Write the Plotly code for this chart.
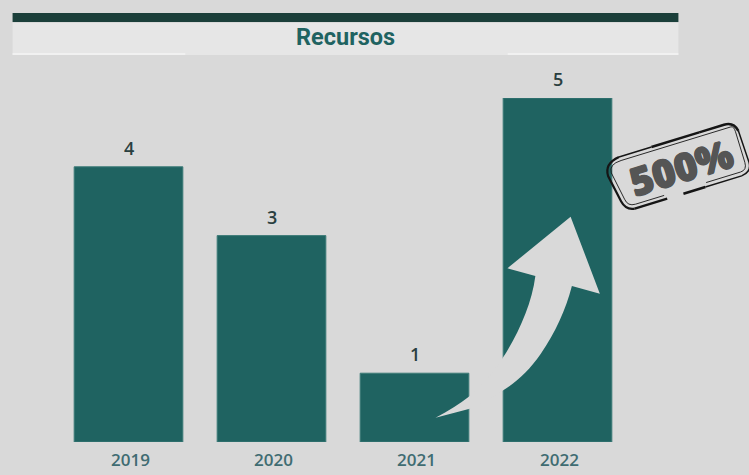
import math
import plotly.graph_objects as go

years = ["2019", "2020", "2021", "2022"]
recursos = [4, 3, 1, 5]
title_text = "Recursos"
badge_text = "500%"

W, H = 749, 475
PLOT_L, PLOT_R, PLOT_T, PLOT_B = 56.5, 629.5, 98, 442
TEAL = "#1f6361"
BG = "#d9d9d9"


def px(x):
    return (x - PLOT_L) / (PLOT_R - PLOT_L)


def py(y):
    return (PLOT_B - y) / (PLOT_B - PLOT_T)


def rect(x0, y0, x1, y1, color):
    return dict(type="rect", xref="paper", yref="paper", x0=px(x0), x1=px(x1),
                y0=py(y0), y1=py(y1), fillcolor=color, line_width=0, layer="below")


def path(cmds, **style):
    parts = []
    for c in cmds:
        parts.append(c[0] + " " + " ".join(f"{px(a):.5f},{py(b):.5f}" for a, b in c[1:]))
    return dict(type="path", xref="paper", yref="paper", path=" ".join(parts), **style)


# Rotated frame used by the stamp outline
CX, CY, ANG = 679, 167, math.radians(-17)


def st(x, y):
    return (CX + x * math.cos(ANG) - y * math.sin(ANG),
            CY + x * math.sin(ANG) + y * math.cos(ANG))


def stroke(points, width):
    cmds = [("M", st(*points[0]))]
    for p in points[1:]:
        if len(p) == 4:
            cmds.append(("Q", st(p[0], p[1]), st(p[2], p[3])))
        else:
            cmds.append(("L", st(*p)))
    return path(cmds, line=dict(color="#151515", width=width))


shapes = [
    rect(12, 13, 679, 22, "#1b3f3a"),
    rect(12, 23, 679, 55, "#e6e6e6"),
    rect(12, 53, 185, 55, "#f1f1f1"),
    rect(508, 53, 679, 55, "#f1f1f1"),
]

# Curved arrow rising from the 2021 bar to the 2022 bar
shapes.append(path([
    ("M", (435.7, 417.7)),
    ("C", (449, 411), (460, 403.5), (469, 396.7)),
    ("C", (480, 388), (492, 375), (502.3, 359)),
    ("C", (518, 335), (532, 305), (535.7, 276)),
    ("L", (507.7, 268.3)),
    ("L", (571, 216.7)),
    ("L", (600.3, 293.7)),
    ("L", (572.3, 286)),
    ("C", (566, 310), (556, 332), (541, 354)),
    ("C", (530, 370), (516, 383), (502.3, 391)),
    ("C", (490, 399), (480, 405), (469, 409)),
    ("Z",),
], fillcolor=BG, line_width=0, layer="above"))

# Stamp outline: broken double rounded frame
shapes += [
    stroke([(-54, -27), (-20, -27)], 1.5),
    stroke([(-20, -27), (30, -27)], 2.5),
    stroke([(30, -27), (56, -27), (66, -27, 68, -17)], 2.5),
    stroke([(68, -17), (69, 16), (69, 26, 58, 27), (20, 27)], 1.5),
    stroke([(20, 27), (-3, 27)], 2.5),
    stroke([(-20, 27), (-54, 27)], 2.5),
    stroke([(-54, 27), (-63, 26, -65, 16), (-70, -12), (-70, -25, -54, -27)], 2.2),
    stroke([(-53, -23), (62, -23), (65, -23, 65, -17)], 0.9),
    stroke([(65, -17), (65, 15), (65, 23, 58, 23), (22, 23)], 0.9),
    stroke([(-22, 23), (-52, 23), (-60, 23, -61, 15), (-66, -14), (-66, -23, -53, -23)], 0.9),
]

fig = go.Figure(go.Bar(
    x=years,
    y=recursos,
    marker=dict(color=TEAL, line=dict(color="#3d7b78", width=1)),
    cliponaxis=False,
    hoverinfo="skip",
))

# Value labels sit a fixed distance above each bar; the x position is the
# category index because numeric-looking strings would be read as indices.
value_labels = [
    dict(text=str(v), x=i, y=v, xref="x", yref="y", yshift=19,
         xanchor="center", yanchor="middle", showarrow=False,
         font=dict(family="Open Sans", size=18, color="#2a3f40", weight=600))
    for i, v in enumerate(recursos)
]

fig.update_layout(
    width=W,
    height=H,
    autosize=False,
    margin=dict(l=PLOT_L, r=W - PLOT_R, t=PLOT_T, b=H - PLOT_B, pad=0, autoexpand=False),
    paper_bgcolor=BG,
    plot_bgcolor=BG,
    bargap=0.24,
    showlegend=False,
    shapes=shapes,
    xaxis=dict(
        type="category",
        categoryorder="array",
        categoryarray=years,
        range=[-0.5, len(years) - 0.5],
        automargin=False,
        showgrid=False,
        zeroline=False,
        showline=False,
        ticks="",
        ticklabelstandoff=6,
        ticklabelshift=2,
        tickfont=dict(family="Open Sans", size=17, color="#3f6c72", weight=600),
    ),
    yaxis=dict(range=[0, 5], visible=False),
    annotations=value_labels + [
        dict(text=title_text, xref="paper", yref="paper", x=px(346), y=py(36.5),
             xanchor="center", yanchor="middle", showarrow=False,
             font=dict(family="Roboto", size=23.5, color=TEAL, weight=700)),
        dict(text=badge_text, xref="paper", yref="paper", x=px(682), y=py(166),
             xanchor="center", yanchor="middle", showarrow=False, textangle=-17,
             font=dict(family="Open Sans", size=39, color="#555555", weight=800,
                       shadow="0.8px 0 #555555, -0.8px 0 #555555, 0 0.8px #555555, 0 -0.8px #555555")),
    ],
)

fig.write_html("out.html")
